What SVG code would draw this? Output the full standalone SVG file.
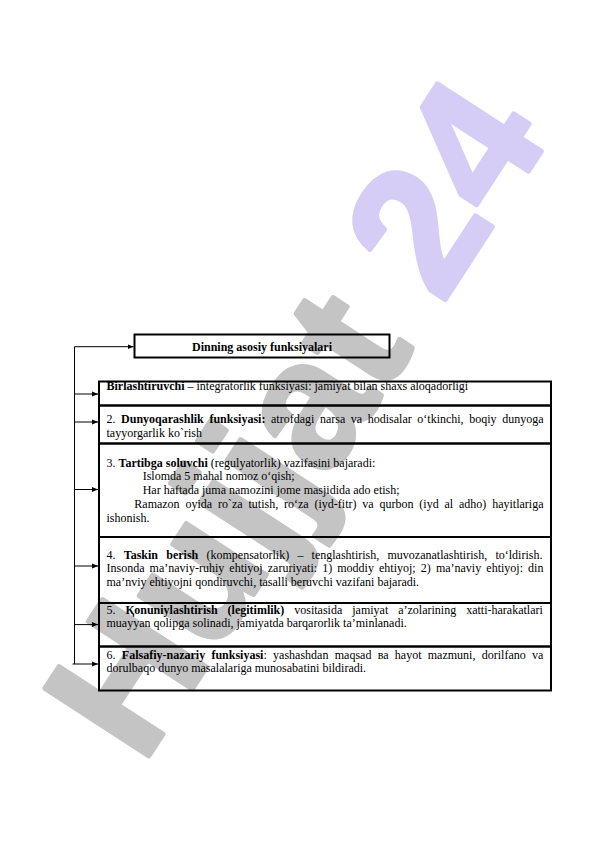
<svg xmlns="http://www.w3.org/2000/svg" width="596" height="842" viewBox="0 0 596 842">
<style>
.box{fill:none;stroke:#000;stroke-width:2}
.t{font-family:"Liberation Serif","Times New Roman",serif;font-size:12px;fill:#000}
.b{font-weight:bold}
.ln{stroke:#000;stroke-width:1;fill:none}
.wm{font-family:"Liberation Sans",Arial,sans-serif;font-weight:bold;font-size:180px;stroke-width:5;stroke-linejoin:round}
</style>
<defs>
<marker id="arr" markerWidth="7" markerHeight="6" refX="6" refY="3" orient="auto" markerUnits="userSpaceOnUse">
<path d="M0,0.5 L6,3 L0,5.5 z" fill="#000"/>
</marker>
</defs>
<rect width="596" height="842" fill="#fff"/>
<g id="watermark" transform="translate(292,416) rotate(-57)">
<text class="wm" x="0" y="65" text-anchor="middle"><tspan fill="#c4c4c4" stroke="#c4c4c4">Hujjat</tspan><tspan fill="#d5cdf6" stroke="#d5cdf6"> 24</tspan></text>
</g>
<g id="connectors">
<line class="ln" x1="74.5" y1="346.7" x2="74.5" y2="664"/>
<line class="ln" x1="74.5" y1="346.7" x2="133.5" y2="346.7" marker-end="url(#arr)"/>
<line class="ln" x1="74.5" y1="394" x2="98" y2="394" marker-end="url(#arr)"/>
<line class="ln" x1="74.5" y1="422" x2="98" y2="422" marker-end="url(#arr)"/>
<line class="ln" x1="74.5" y1="489.5" x2="98" y2="489.5" marker-end="url(#arr)"/>
<line class="ln" x1="74.5" y1="566" x2="98" y2="566" marker-end="url(#arr)"/>
<line class="ln" x1="74.5" y1="624.6" x2="98" y2="624.6" marker-end="url(#arr)"/>
<line class="ln" x1="72.5" y1="664" x2="98" y2="664" marker-end="url(#arr)"/>
</g>
<g id="node-title">
<rect class="box" x="134.5" y="334.5" width="255" height="23"/>
<text class="t b" x="262" y="350.5" text-anchor="middle">Dinning asosiy funksiyalari</text>
</g>
<g id="node-1">
<rect class="box" x="99" y="381.5" width="452" height="24"/>
<text class="t" x="106.5" y="390"><tspan class="b">Birlashtiruvchi</tspan> – integratorlik funksiyasi: jamiyat bilan shaxs aloqadorligi</text>
</g>
<g id="node-2">
<rect class="box" x="99" y="405.5" width="452" height="38"/>
<text class="t" x="106.5" y="423" word-spacing="2.59">2. <tspan class="b">Dunyoqarashlik funksiyasi:</tspan> atrofdagi narsa va hodisalar o‘tkinchi, boqiy dunyoga</text>
<text class="t" x="106.5" y="436.5">tayyorgarlik ko`rish</text>
</g>
<g id="node-3">
<rect class="box" x="99" y="443.5" width="452" height="93.5"/>
<text class="t" x="106.5" y="466.5">3. <tspan class="b">Tartibga soluvchi</tspan> (regulyatorlik) vazifasini bajaradi:</text>
<text class="t" x="142.7" y="480.3">Islomda 5 mahal nomoz o‘qish;</text>
<text class="t" x="142.7" y="494">Har haftada juma namozini jome masjidida ado etish;</text>
<text class="t" x="134.3" y="508" word-spacing="2.85">Ramazon oyida ro`za tutish, ro‘za (iyd-fitr) va qurbon (iyd al adho) hayitlariga</text>
<text class="t" x="106.5" y="522">ishonish.</text>
</g>
<g id="node-4">
<rect class="box" x="99" y="537" width="452" height="66"/>
<text class="t" x="106.5" y="558.5" word-spacing="5.24">4. <tspan class="b">Taskin berish</tspan> (kompensatorlik) – tenglashtirish, muvozanatlashtirish, to‘ldirish.</text>
<text class="t" x="106.5" y="572.3" word-spacing="2.1">Insonda ma’naviy-ruhiy ehtiyoj zaruriyati: 1) moddiy ehtiyoj; 2) ma’naviy ehtiyoj: din</text>
<text class="t" x="106.5" y="586">ma’nviy ehtiyojni qondiruvchi, tasalli beruvchi vazifani bajaradi.</text>
</g>
<g id="node-5">
<rect class="box" x="99" y="603" width="452" height="43.5"/>
<text class="t" x="106.5" y="613.5" word-spacing="7">5. <tspan class="b">Қonuniylashtirish (legitimlik)</tspan> vositasida jamiyat a’zolarining xatti-harakatlari</text>
<text class="t" x="106.5" y="627.3">muayyan qolipga solinadi, jamiyatda barqarorlik ta’minlanadi.</text>
</g>
<g id="node-6">
<rect class="box" x="99" y="646.5" width="452" height="44"/>
<text class="t" x="106.5" y="658.5" word-spacing="3.3">6. <tspan class="b">Falsafiy-nazariy funksiyasi</tspan>: yashashdan maqsad ва hayot mazmuni, dorilfano va</text>
<text class="t" x="106.5" y="672.3">dorulbaqo dunyo masalalariga munosabatini bildiradi.</text>
</g>
</svg>
